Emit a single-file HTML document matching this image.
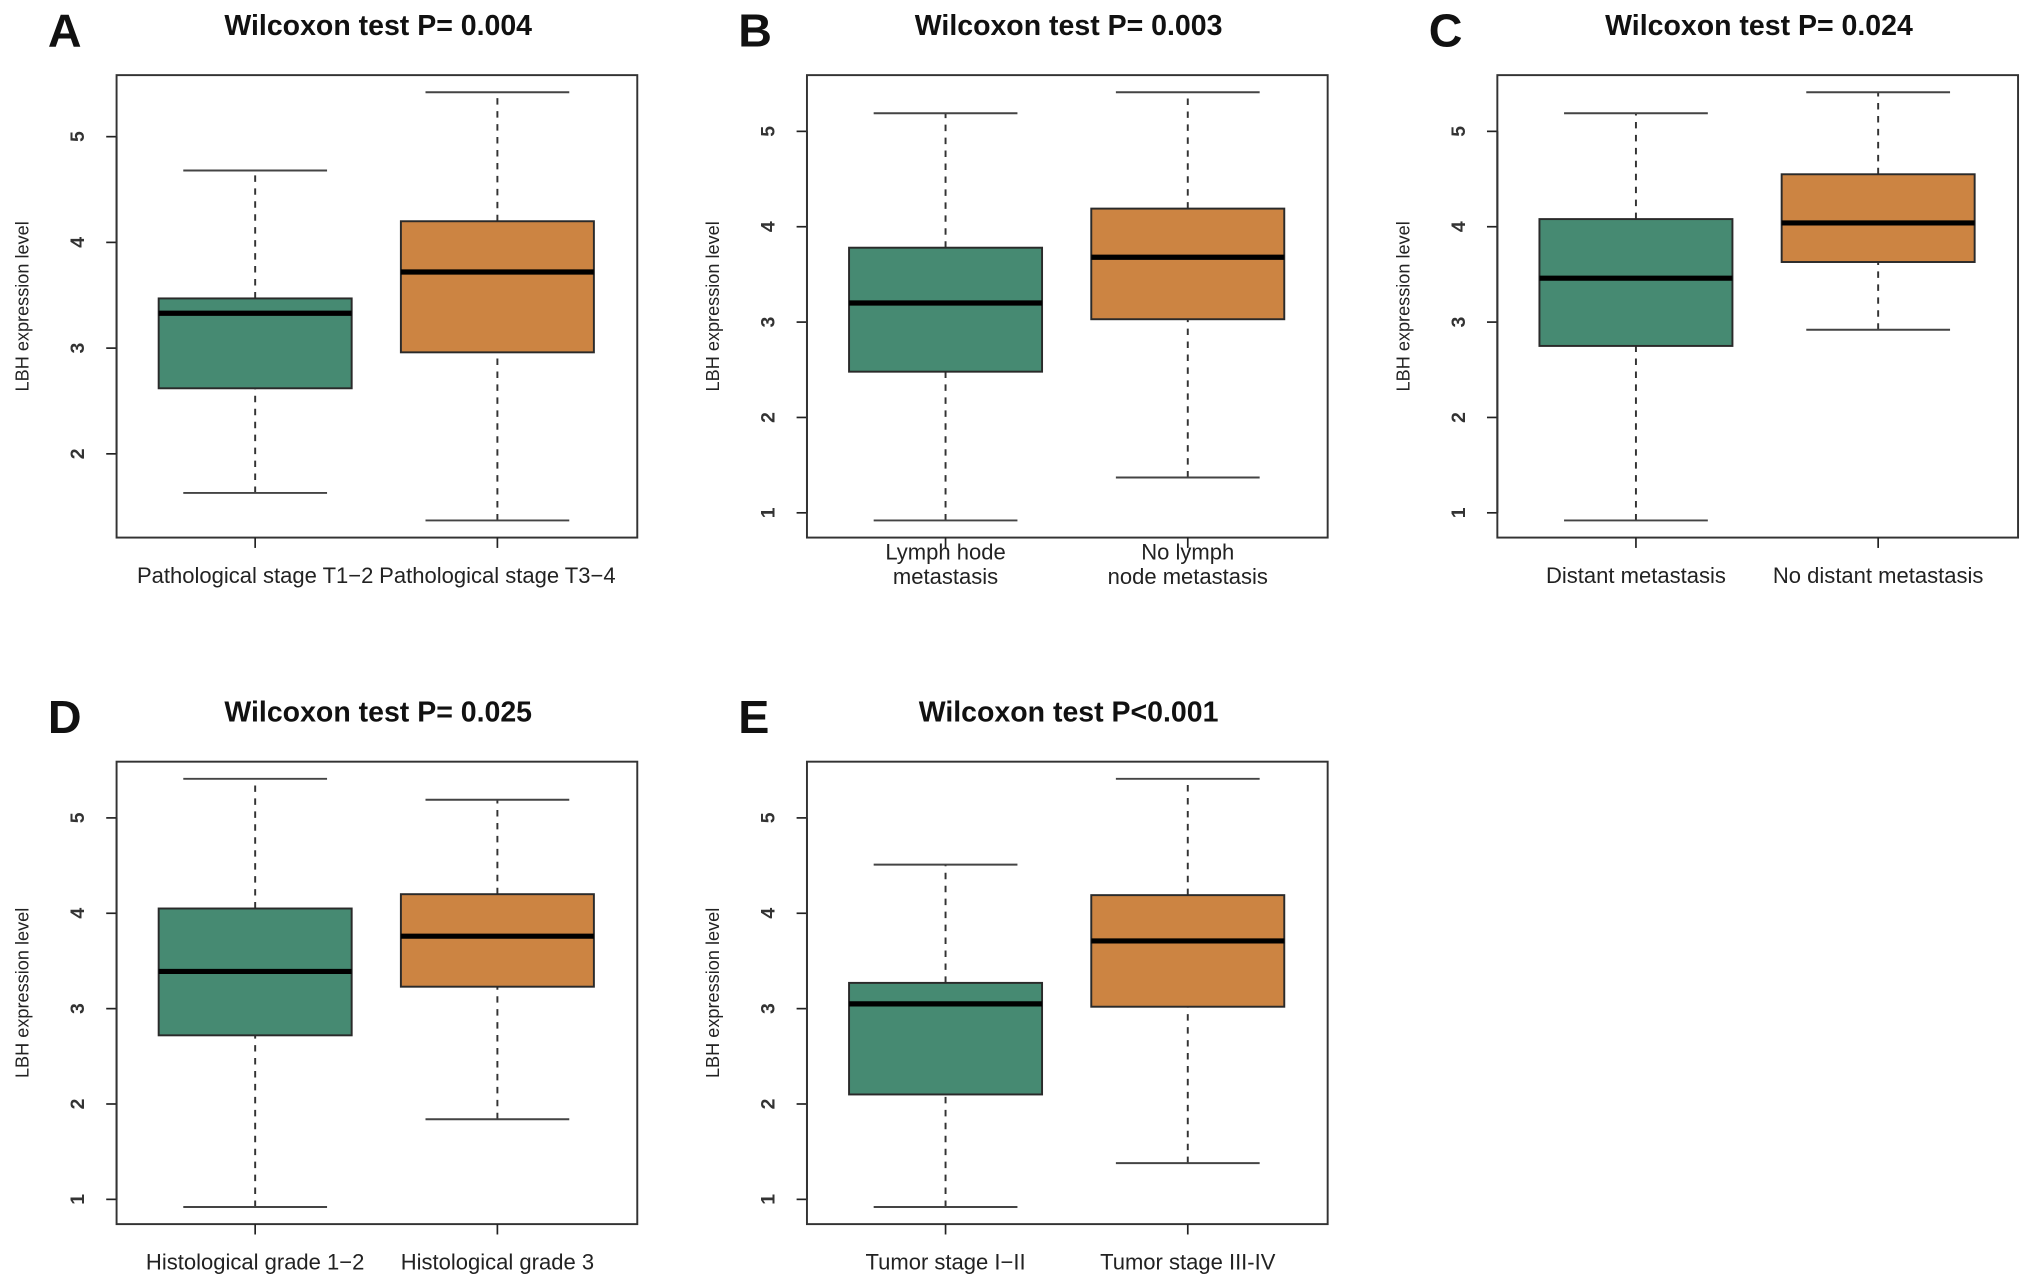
<!DOCTYPE html>
<html><head><meta charset="utf-8"><style>
html,body{margin:0;padding:0;background:#fff;}
svg{display:block;font-family:"Liberation Sans",Arial,sans-serif;}
</style></head><body>
<svg id="fig" width="2031" height="1285" viewBox="0 0 1568 992" preserveAspectRatio="none" xmlns="http://www.w3.org/2000/svg"></svg>
<script>
// Data per panel
const panelLetters = ["A","B","C","D","E"];
const panelTitles = ["Wilcoxon test P= 0.004","Wilcoxon test P= 0.003","Wilcoxon test P= 0.024","Wilcoxon test P= 0.025","Wilcoxon test P<0.001"];
const groupLabels = [
  [["Pathological stage T1\u22122"],["Pathological stage T3\u22124"]],
  [["Lymph hode","metastasis"],["No lymph","node metastasis"]],
  [["Distant metastasis"],["No distant metastasis"]],
  [["Histological grade 1\u22122"],["Histological grade 3"]],
  [["Tumor stage I\u2212II"],["Tumor stage III-IV"]]
];
// [whiskerLow, q1, median, q3, whiskerHigh]
const greenStats = [
  [1.63,2.62,3.33,3.47,4.68],
  [0.92,2.48,3.20,3.78,5.19],
  [0.92,2.75,3.46,4.08,5.19],
  [0.92,2.72,3.39,4.05,5.41],
  [0.92,2.10,3.05,3.27,4.51]
];
const orangeStats = [
  [1.37,2.96,3.72,4.20,5.42],
  [1.37,3.03,3.68,4.19,5.41],
  [2.92,3.63,4.04,4.55,5.41],
  [1.84,3.23,3.76,4.20,5.19],
  [1.38,3.02,3.71,4.19,5.41]
];
const yTicks = [1,2,3,4,5];

const NS="http://www.w3.org/2000/svg";
const svg=document.getElementById('fig');
function mk(tag,attrs,parent){const e=document.createElementNS(NS,tag);for(const k in attrs)e.setAttribute(k,attrs[k]);(parent||svg).appendChild(e);return e;}
const colOrigins=[90,623,1156];
const rowOrigins=[58,588];
const W=402,H=357;
const fills=["#468a72","#cc8442"];

for(let p=0;p<5;p++){
  const x0=colOrigins[p%3], y0=rowOrigins[Math.floor(p/3)];
  const g=mk('g',{});
  
  
  const both=greenStats[p].concat(orangeStats[p]);
  let lo=Math.min(...both), hi=Math.max(...both), sp=hi-lo;
  lo-=sp*0.04; hi+=sp*0.04;
  const y=v=>y0+H-(v-lo)/(hi-lo)*H;
  const xc=[x0+107,x0+294];
  const L=mk('text',{x:x0-53,y:y0-22,'font-size':36,'font-weight':'bold',fill:'#111'},g);
  L.textContent=panelLetters[p];
  
  
  const T=mk('text',{x:x0+202,y:y0-31,'font-size':22,'font-weight':'bold','text-anchor':'middle',fill:'#111'},g);
  T.textContent=panelTitles[p];
  
  
  const yt=mk('text',{x:0,y:0,'font-size':14,'text-anchor':'middle',fill:'#222',transform:`translate(${x0-68},${y0+H/2}) rotate(-90)`},g);
  yt.textContent="LBH expression level";
  
  
  const vis=yTicks.filter(t=>t>=lo&&t<=hi);
  mk('line',{x1:x0,x2:x0,y1:y(vis[0]),y2:y(vis[vis.length-1]),stroke:'#222','stroke-width':1.5},g);
  vis.forEach(t=>{
    const tl=mk('line',{x1:x0-8,x2:x0,y1:y(t),y2:y(t),stroke:'#222','stroke-width':1.3},g);
    
    
    const tt=mk('text',{x:0,y:0,'font-size':15,'font-weight':'bold','text-anchor':'middle',fill:'#333',transform:`translate(${x0-25},${y(t)}) rotate(-90)`},g);
    tt.textContent=t;
    
    
  });
  const fr=mk('rect',{x:x0,y:y0,width:W,height:H,fill:'none',stroke:'#333','stroke-width':1.5},g);
  
  
  [greenStats[p],orangeStats[p]].forEach((s,i)=>{
    const cx=xc[i], bw=149, cw=111;
    const bg=mk('g',{},g);
    
    
    mk('line',{x1:cx,x2:cx,y1:y(s[0]),y2:y(s[1]),stroke:'#333','stroke-width':1.5,'stroke-dasharray':'5,5'},bg);
    mk('line',{x1:cx,x2:cx,y1:y(s[3]),y2:y(s[4]),stroke:'#333','stroke-width':1.5,'stroke-dasharray':'5,5'},bg);
    mk('line',{x1:cx-cw/2,x2:cx+cw/2,y1:y(s[0]),y2:y(s[0]),stroke:'#444','stroke-width':1.5},bg);
    mk('line',{x1:cx-cw/2,x2:cx+cw/2,y1:y(s[4]),y2:y(s[4]),stroke:'#444','stroke-width':1.5},bg);
    mk('rect',{x:cx-bw/2,y:y(s[3]),width:bw,height:y(s[1])-y(s[3]),fill:fills[i],stroke:'#2a2a2a','stroke-width':1.5},bg);
    mk('line',{x1:cx-bw/2,x2:cx+bw/2,y1:y(s[2]),y2:y(s[2]),stroke:'#000','stroke-width':4},bg);
    mk('line',{x1:cx,x2:cx,y1:y0+H,y2:y0+H+8,stroke:'#222','stroke-width':1.3},g);
    const lines=groupLabels[p][i];
    lines.forEach((ln,k)=>{
      const lt=mk('text',{x:cx,y:lines.length===1?y0+H+35:y0+H+17+k*19,'font-size':17,'text-anchor':'middle',fill:'#222'},g);
      lt.textContent=ln;
      
      
    });
  });
}
</script>
</body></html>
